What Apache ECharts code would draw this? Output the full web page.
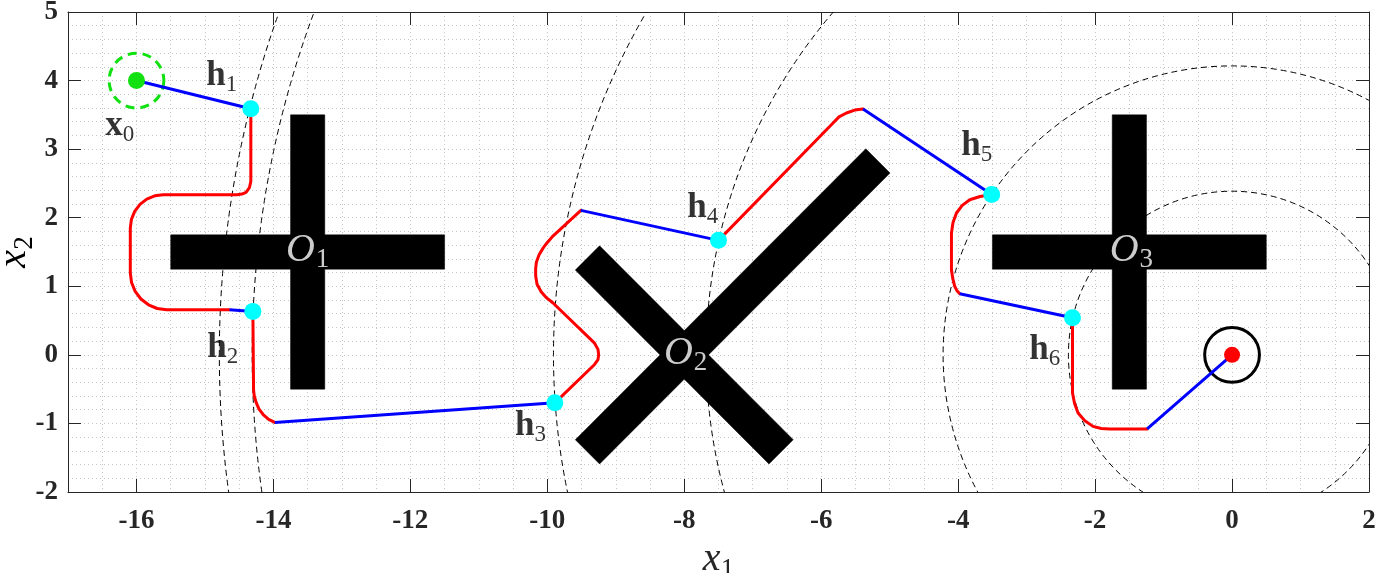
<!DOCTYPE html>
<html><head><meta charset="utf-8">
<script src="https://cdn.jsdelivr.net/npm/echarts@6/dist/echarts.min.js"></script>
<style>html,body{margin:0;padding:0;background:#fff}#c{width:1379px;height:573px}</style>
</head><body><div id="c"></div>
<script>
// ---------- data ----------
const xTicks = [-16, -14, -12, -10, -8, -6, -4, -2, 0, 2];
const yTicks = [-2, -1, 0, 1, 2, 3, 4, 5];

const startPoint = [-16, 4];
const goalPoint = [0, 0];
const waypoints = [
  [-14.33, 3.59], [-14.30, 0.634], [-9.89, -0.70],
  [-7.50, 1.67], [-3.51, 2.34], [-2.33, 0.54]
];
// dashed level circles centred on the goal (radius = |h_i|)
const levelRadii = [14.79, 14.31, 9.91, 7.68, 4.22, 2.39];
const startRadius = 0.4;
const goalRadius = 0.4;

// obstacles as polygons (data coordinates)
const obstacle1 = [
  [[-15.5, 1.25], [-11.5, 1.25], [-11.5, 1.75], [-15.5, 1.75]],
  [[-13.75, -0.5], [-13.25, -0.5], [-13.25, 3.5], [-13.75, 3.5]]
];
const obstacle2 = [
  [[-9.237, -1.591], [-4.995, 2.651], [-5.349, 3.005], [-9.591, -1.237]],
  [[-9.237, 1.591], [-6.409, -1.237], [-6.763, -1.591], [-9.591, 1.237]]
];
const obstacle3 = [
  [[-3.5, 1.25], [0.5, 1.25], [0.5, 1.75], [-3.5, 1.75]],
  [[-1.75, -0.5], [-1.25, -0.5], [-1.25, 3.5], [-1.75, 3.5]]
];

// red (curved) parts of the path
const redPaths = [
  [[-14.33, 3.59], [-14.33, 2.53], [-14.35, 2.44], [-14.40, 2.37], [-14.46, 2.345], [-14.53, 2.336],
   [-15.61, 2.336], [-15.734, 2.319], [-15.85, 2.271], [-15.949, 2.194], [-16.026, 2.093],
   [-16.074, 1.976], [-16.09, 1.85], [-16.09, 1.194], [-16.072, 1.055], [-16.019, 0.926],
   [-15.935, 0.815], [-15.825, 0.73], [-15.697, 0.676], [-15.56, 0.658], [-14.64, 0.658]],
  [[-14.30, 0.634], [-14.29, -0.508], [-14.28, -0.60], [-14.25, -0.70], [-14.21, -0.79],
   [-14.15, -0.87], [-14.07, -0.94], [-13.98, -0.985]],
  [[-9.89, -0.70], [-9.31, -0.14], [-9.26, -0.07], [-9.25, 0.0], [-9.26, 0.08], [-9.31, 0.17],
   [-9.916, 0.756], [-10.01, 0.83], [-10.09, 0.92], [-10.15, 1.03], [-10.17, 1.15], [-10.17, 1.26],
   [-10.16, 1.35], [-10.12, 1.46], [-10.06, 1.56], [-10.0, 1.64], [-9.93, 1.72], [-9.51, 2.107]],
  [[-7.50, 1.67], [-5.827, 3.381], [-5.74, 3.47], [-5.632, 3.527], [-5.51, 3.57], [-5.389, 3.585]],
  [[-3.51, 2.34], [-3.68, 2.31], [-3.83, 2.262], [-3.94, 2.18], [-4.025, 2.069], [-4.075, 1.93],
   [-4.098, 1.777], [-4.098, 1.242], [-4.08, 1.12], [-4.05, 0.998], [-4.02, 0.94], [-3.977, 0.892]],
  [[-2.33, 0.54], [-2.33, -0.556], [-2.30, -0.71], [-2.249, -0.848], [-2.15, -0.96], [-2.03, -1.043],
   [-1.91, -1.075], [-1.786, -1.081], [-1.24, -1.081]]
];
// blue (straight) parts of the path
const bluePaths = [
  [[-16, 4], [-14.33, 3.59]],
  [[-14.64, 0.658], [-14.30, 0.634]],
  [[-13.98, -0.985], [-9.89, -0.70]],
  [[-9.51, 2.107], [-7.50, 1.67]],
  [[-5.389, 3.585], [-3.51, 2.34]],
  [[-3.977, 0.892], [-2.33, 0.54]],
  [[-1.24, -1.081], [0, 0]]
];

// text labels: [main, subscript, x, y]
const pointLabels = [
  ['x', '0', -16.245, 3.31],
  ['h', '1', -14.755, 4.04],
  ['h', '2', -14.74, 0.075],
  ['h', '3', -10.245, -1.06],
  ['h', '4', -7.73, 2.12],
  ['h', '5', -3.73, 3.02],
  ['h', '6', -2.735, 0.046]
];
const obstacleLabels = [
  ['O', '1', -13.5, 1.5],
  ['O', '2', -7.98, 0.0],
  ['O', '3', -1.47, 1.5]
];
const axisNames = [['x', '1'], ['x', '2']];

// ---------- chart ----------
const SERIF = 'Liberation Serif';
const AX = '#262626';
const allObstacles = [].concat(obstacle1, obstacle2, obstacle3);

const chart = echarts.init(document.getElementById('c'), null, {renderer: 'canvas'});

function circleSeries(data, style, z) {
  return {
    type: 'custom', coordinateSystem: 'cartesian2d', xAxisIndex: 0, yAxisIndex: 0,
    clip: true, silent: true, z: z,
    data: data,
    renderItem: function (params, api) {
      const c = api.coord([api.value(0), api.value(1)]);
      const r = api.size([api.value(2), 0])[0];
      return {type: 'circle', shape: {cx: c[0], cy: c[1], r: r}, style: Object.assign({fill: 'none'}, style)};
    }
  };
}

const series = [];
series.push({
  type: 'custom', coordinateSystem: 'cartesian2d', xAxisIndex: 0, yAxisIndex: 0,
  clip: true, silent: true, z: 2,
  data: allObstacles.map(p => [p[0][0], p[0][1]]),
  renderItem: function (params, api) {
    const pts = allObstacles[params.dataIndex].map(p => api.coord(p));
    return {type: 'polygon', shape: {points: pts}, style: {fill: '#000', stroke: '#000', lineWidth: 0.5}};
  }
});
series.push(circleSeries(levelRadii.map(r => [goalPoint[0], goalPoint[1], r]),
  {stroke: '#000', lineWidth: 1, lineDash: [6, 4]}, 3));
series.push(circleSeries([[startPoint[0], startPoint[1], startRadius]],
  {stroke: '#11e011', lineWidth: 3, lineDash: [9, 6]}, 4));
series.push(circleSeries([[goalPoint[0], goalPoint[1], goalRadius]],
  {stroke: '#000', lineWidth: 3}, 4));

redPaths.forEach(p => series.push({
  type: 'line', data: p, showSymbol: false, symbol: 'none', clip: true, silent: true, z: 5,
  lineStyle: {color: '#ff0000', width: 3, join: 'round', cap: 'round'}, animation: false
}));
bluePaths.forEach(p => series.push({
  type: 'line', data: p, showSymbol: false, symbol: 'none', clip: true, silent: true, z: 5,
  lineStyle: {color: '#0000ff', width: 3, join: 'round'}, animation: false
}));

series.push({type: 'scatter', data: waypoints, symbolSize: 17, z: 6, silent: true,
  itemStyle: {color: '#00ffff', opacity: 1}});
series.push({type: 'scatter', data: [startPoint], symbolSize: 17, z: 6, silent: true,
  itemStyle: {color: '#11e011', opacity: 1}});
series.push({type: 'scatter', data: [goalPoint], symbolSize: 16, z: 6, silent: true,
  itemStyle: {color: '#ff0000', opacity: 1}});

series.push({
  type: 'scatter', symbolSize: 0, z: 8, silent: true,
  data: pointLabels.map(l => ({value: [l[2], l[3]], label: {formatter: '{b|' + l[0] + '}{s|' + l[1] + '}'}})),
  label: {
    show: true, position: 'inside', align: 'center', verticalAlign: 'middle',
    rich: {
      b: {fontFamily: SERIF, fontWeight: 'bold', fontSize: 35, color: '#000', verticalAlign: 'bottom', padding: [0, 0, 3, 0]},
      s: {fontFamily: SERIF, fontSize: 23, color: '#000', verticalAlign: 'bottom'}
    }
  }
});
series.push({
  type: 'scatter', symbolSize: 0, z: 8, silent: true,
  data: obstacleLabels.map(l => ({value: [l[2], l[3]], label: {formatter: '{o|' + l[0] + '}{s|' + l[1] + '}'}})),
  label: {
    show: true, position: 'inside', align: 'center', verticalAlign: 'middle',
    rich: {
      o: {fontFamily: SERIF, fontStyle: 'italic', fontSize: 40, color: '#fff', verticalAlign: 'bottom', padding: [0, 1, 3, 0]},
      s: {fontFamily: SERIF, fontSize: 27, color: '#fff', verticalAlign: 'bottom'}
    }
  }
});

const nameRich = {
  i: {fontFamily: SERIF, fontStyle: 'italic', fontSize: 40, color: AX, verticalAlign: 'bottom', padding: [0, 0, 4, 0]},
  s: {fontFamily: SERIF, fontSize: 27, color: AX, verticalAlign: 'bottom'}
};
const gridDot = {show: true, lineStyle: {color: '#c4c4c4', width: 1, type: [1, 3]}};
const hidden = {axisLine: {show: false}, axisTick: {show: false}, axisLabel: {show: false}};

const option = {
  animation: false,
  backgroundColor: '#fff',
  grid: {left: 68, top: 12, width: 1301, height: 480, containLabel: false, outerBoundsMode: 'none'},
  graphic: [{
    type: 'text', x: 16, y: 252, rotation: Math.PI / 2, silent: true,
    style: {text: '{i|' + axisNames[1][0] + '}{s|' + axisNames[1][1] + '}', rich: nameRich,
            align: 'center', verticalAlign: 'middle'}
  }],
  xAxis: [
    {type: 'value', min: -17, max: 2, position: 'bottom',
     axisLine: {show: true, onZero: false, lineStyle: {color: AX, width: 1}},
     axisTick: {show: true, inside: true, length: 13, customValues: xTicks, lineStyle: {color: AX}},
     axisLabel: {customValues: xTicks, margin: 16, fontFamily: SERIF, fontWeight: 'bold', fontSize: 27, color: AX},
     splitLine: {show: false},
     name: '{i|' + axisNames[0][0] + '}{s|' + axisNames[0][1] + '}', nameLocation: 'middle', nameGap: 40,
     nameTextStyle: {rich: nameRich}},
    {type: 'value', min: -17, max: 2, position: 'top',
     axisLine: {show: true, onZero: false, lineStyle: {color: AX, width: 1}},
     axisTick: {show: true, inside: true, length: 13, customValues: xTicks, lineStyle: {color: AX}},
     axisLabel: {show: false}, splitLine: {show: false}},
    Object.assign({type: 'value', min: -17, max: 2, interval: 0.5, position: 'bottom', splitLine: gridDot}, hidden)
  ],
  yAxis: [
    {type: 'value', min: -2, max: 5, interval: 1, position: 'left',
     axisLine: {show: true, onZero: false, lineStyle: {color: AX, width: 1}},
     axisTick: {show: true, inside: true, length: 13, lineStyle: {color: AX}},
     axisLabel: {margin: 10, fontFamily: SERIF, fontWeight: 'bold', fontSize: 27, color: AX},
     splitLine: {show: false}},
    {type: 'value', min: -2, max: 5, interval: 1, position: 'right',
     axisLine: {show: true, onZero: false, lineStyle: {color: AX, width: 1}},
     axisTick: {show: true, inside: true, length: 13, lineStyle: {color: AX}},
     axisLabel: {show: false}, splitLine: {show: false}},
    Object.assign({type: 'value', min: -2, max: 5, interval: 0.2, position: 'left', splitLine: gridDot}, hidden)
  ],
  series: series
};
chart.setOption(option);
</script>
</body></html>
